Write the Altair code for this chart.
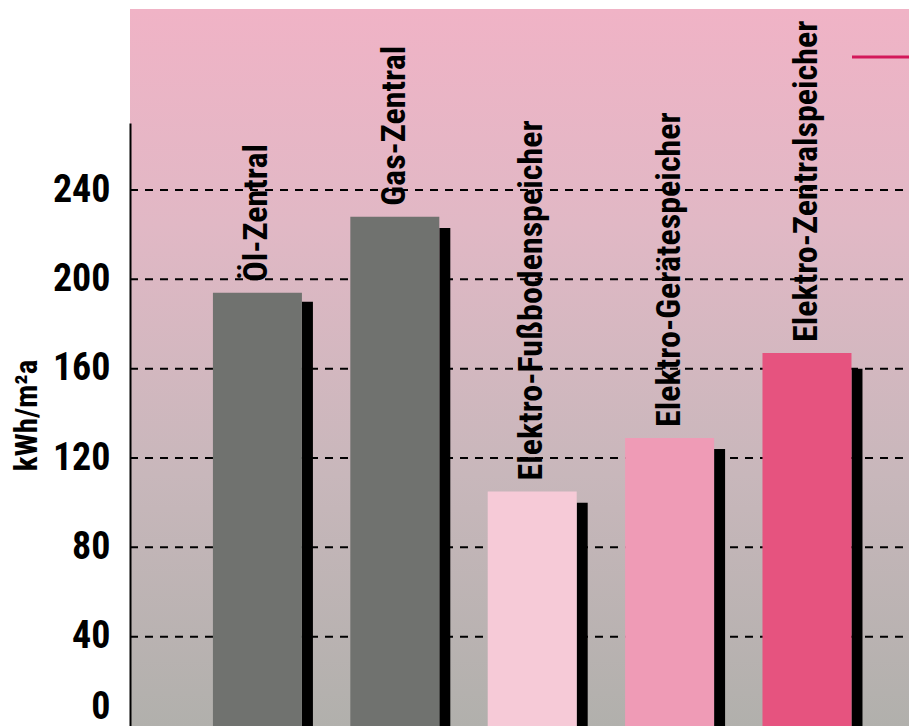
import altair as alt
import pandas as pd

categories = ["Öl-Zentral", "Gas-Zentral", "Elektro-Fußbodenspeicher",
              "Elektro-Gerätespeicher", "Elektro-Zentralspeicher"]
values = [194, 228, 105, 129, 167]
shadow_values = [190, 223, 100, 124, 160]
bar_colors = ["#70726f", "#70726f", "#f6cad7", "#ef9bb6", "#e6537f"]
y_ticks = [0, 40, 80, 120, 160, 200, 240]
grid_values = [40, 80, 120, 160, 200, 240]

FONT = "Liberation Sans Narrow, Roboto Condensed, DejaVu Sans Condensed, Arial Narrow, sans-serif"
W, H = 779, 603

df = pd.DataFrame({"cat": categories, "value": values, "shadow": shadow_values})
grid_df = pd.DataFrame({"g": grid_values})
one = pd.DataFrame({"a": [0]})

xenc = alt.X("cat:N", sort=categories, axis=None,
             scale=alt.Scale(paddingInner=0, paddingOuter=0.335, align=0.638))
yscale = alt.Scale(domain=[0, 270], nice=False)

bg = alt.Chart(one).mark_rect(
    color=alt.LinearGradient(
        gradient="linear", x1=0, x2=0, y1=0, y2=1,
        stops=[alt.GradientStop(offset=0, color="#f0b3c6"),
               alt.GradientStop(offset=0.3, color="#e1b8c5"),
               alt.GradientStop(offset=0.65, color="#c8b7bb"),
               alt.GradientStop(offset=1, color="#b1b0ac")])
).encode(x=alt.value(0), x2=alt.value(W), y=alt.value(-114), y2=alt.value(H))

grid = alt.Chart(grid_df).mark_rule(color="black", strokeWidth=2, strokeDash=[8, 7]).encode(
    y=alt.Y("g:Q", scale=yscale), x=alt.value(0), x2=alt.value(W))

shadow = alt.Chart(df).mark_bar(width=11, xOffset=50, color="black").encode(
    x=xenc, y=alt.Y("shadow:Q", scale=yscale))

bars = alt.Chart(df).mark_bar(width=89).encode(
    x=xenc,
    y=alt.Y("value:Q", scale=yscale,
            axis=alt.Axis(values=y_ticks, title="kWh/m²a", grid=False, ticks=False,
                          domainColor="black", domainWidth=2, zindex=1,
                          labelFont=FONT, labelFontWeight="bold", labelFontSize=38,
                          labelColor="black", labelPadding=20,
                          labelBaseline={"condition": {"test": "datum.value === 0", "value": "bottom"},
                                         "value": "middle"},
                          titleFont=FONT, titleFontWeight="bold", titleFontSize=31,
                          titleColor="black", titleAngle=270, titleAlign="center",
                          titleBaseline="middle", titleX=-103, titleY=292)),
    color=alt.Color("cat:N", scale=alt.Scale(domain=categories, range=bar_colors), legend=None))

labels = alt.Chart(df).mark_text(angle=270, align="left", baseline="middle", dx=11,
                                 font=FONT, fontWeight="bold", fontSize=34, color="black").encode(
    x=xenc, y=alt.Y("value:Q", scale=yscale), text="cat:N")

red = alt.Chart(one).mark_rule(color="#d3185a", strokeWidth=3).encode(
    x=alt.value(722), x2=alt.value(W), y=alt.value(-66))

chart = alt.layer(bg, grid, shadow, bars, labels, red).properties(
    width=W, height=H,
    autosize=alt.AutoSizeParams(type="none"),
    padding={"left": 130, "top": 123, "right": 0, "bottom": 0},
    background="white",
).configure_view(stroke=None)

chart.save("out.html", embed_options={"renderer": "svg", "actions": False})
